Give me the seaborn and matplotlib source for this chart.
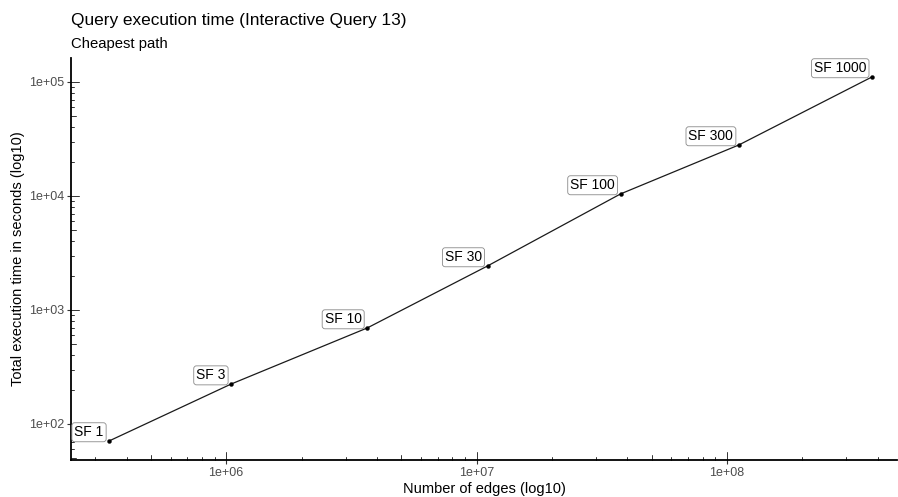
import matplotlib
matplotlib.use("Agg")
import matplotlib.pyplot as plt
from matplotlib.lines import Line2D
from matplotlib.transforms import blended_transform_factory
import seaborn as sns
import pandas as pd
import numpy as np

labels = ["SF 1", "SF 3", "SF 10", "SF 30", "SF 100", "SF 300", "SF 1000"]
edges = [3.41e5, 1.047e6, 3.66e6, 1.107e7, 3.76e7, 1.117e8, 3.8e8]
times = [71, 224, 695, 2432, 10410, 28000, 110600]
x_ticks = [1e6, 1e7, 1e8]
x_ticklabels = ["1e+06", "1e+07", "1e+08"]
y_ticks = [1e2, 1e3, 1e4, 1e5]
y_ticklabels = ["1e+02", "1e+03", "1e+04", "1e+05"]

df = pd.DataFrame({"label": labels, "edges": edges, "time": times})

sns.set_style("white")
plt.rcParams["font.family"] = ["Liberation Sans", "DejaVu Sans"]

W, H = 898, 497
fig = plt.figure(figsize=(W / 100, H / 100), dpi=100)
ax_l, ax_r, ax_t, ax_b = 71, 897, 58, 460
ax = fig.add_axes([ax_l / W, 1 - ax_b / H, (ax_r - ax_l) / W, (ax_b - ax_t) / H])

sns.lineplot(data=df, x="edges", y="time", ax=ax, color="#1a1a1a", linewidth=0.9, sort=False)
sns.scatterplot(data=df, x="edges", y="time", ax=ax, color="black", s=8, edgecolor="black", linewidth=0.3, zorder=3)

ax.set_xscale("log")
ax.set_yscale("log")
ax.set_xlim(2.4e5, 4.78e8)
ax.set_ylim(48.3, 1.62e5)

for _, r in df.iterrows():
    ax.annotate(r["label"], (r["edges"], r["time"]), xytext=(-4, 1.2), textcoords="offset points",
                ha="right", va="bottom", fontsize=10, color="black",
                bbox=dict(boxstyle="round,pad=0.18,rounding_size=0.2", fc="white", ec="#8a8a8a", lw=0.6),
                zorder=4)

ax.set_xticks(x_ticks)
ax.set_xticklabels(x_ticklabels)
ax.set_yticks(y_ticks)
ax.set_yticklabels(y_ticklabels)
ax.minorticks_off()
ax.tick_params(axis="both", which="major", direction="out", length=3, width=0.8,
               color="#333333", labelsize=9, labelcolor="#4d4d4d", pad=2,
               bottom=True, left=True)

for side in ["top", "right"]:
    ax.spines[side].set_visible(False)
for side in ["left", "bottom"]:
    ax.spines[side].set_color("black")
    ax.spines[side].set_linewidth(1.3)

# inward log ticks (annotation_logticks style)
pw = ax_r - ax_l
ph = ax_b - ax_t
tx = blended_transform_factory(ax.transData, ax.transAxes)
ty = blended_transform_factory(ax.transAxes, ax.transData)
for dec in range(5, 9):
    for m in range(1, 10):
        v = m * 10 ** dec
        if 2.4e5 <= v <= 4.78e8:
            L = 8 if m == 1 else (5 if m == 5 else 3)
            ax.add_line(Line2D([v, v], [0, L / ph], transform=tx, color="#333333", lw=0.7, clip_on=False))
for dec in range(1, 6):
    for m in range(1, 10):
        v = m * 10 ** dec
        if 48.3 <= v <= 1.62e5:
            L = 8 if m == 1 else (5 if m == 5 else 3)
            ax.add_line(Line2D([0, L / pw], [v, v], transform=ty, color="#333333", lw=0.7, clip_on=False))

ax.set_xlabel("")
ax.set_ylabel("")
fig.text((ax_l + ax_r) / 2 / W, 1 - 489 / H, "Number of edges (log10)", ha="center", va="center", fontsize=10.5, color="black")
fig.text(18 / W, 1 - (ax_t + ax_b) / 2 / H, "Total execution time in seconds (log10)", ha="center", va="center",
         rotation=90, fontsize=10.5, color="black")
fig.text(ax_l / W, 1 - 20 / H, "Query execution time (Interactive Query 13)", ha="left", va="center", fontsize=12.4, color="black")
fig.text(ax_l / W, 1 - 44 / H, "Cheapest path", ha="left", va="center", fontsize=10.7, color="black")

fig.savefig("out.png", dpi=100)
